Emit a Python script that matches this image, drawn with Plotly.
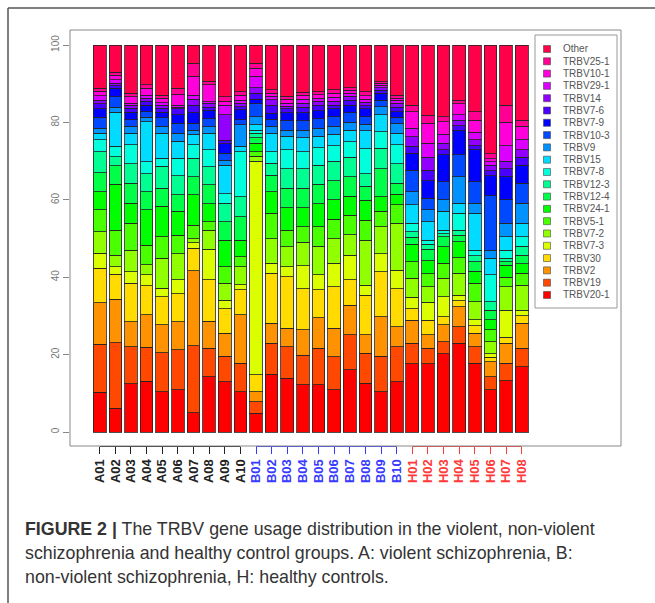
import colorsys
import plotly.graph_objects as go

# ---------------- data ----------------
samples = ["A01", "A02", "A03", "A04", "A05", "A06", "A07", "A08", "A09", "A10",
           "B01", "B02", "B03", "B04", "B05", "B06", "B07", "B08", "B09", "B10",
           "H01", "H02", "H03", "H04", "H05", "H06", "H07", "H08"]

# stacking order, bottom -> top
genes = ["TRBV20-1", "TRBV19", "TRBV2", "TRBV30", "TRBV7-3", "TRBV7-2", "TRBV5-1",
         "TRBV24-1", "TRBV12-4", "TRBV12-3", "TRBV7-8", "TRBV15", "TRBV9", "TRBV10-3",
         "TRBV7-9", "TRBV7-6", "TRBV14", "TRBV29-1", "TRBV10-1", "TRBV25-1", "Other"]

trbv20_1 = [10.3, 6.1, 12.5, 13.1, 10.4, 11.0, 5.0, 14.3, 13.0, 10.4,
            4.8, 15.0, 13.9, 12.2, 12.2, 10.9, 16.1, 12.6, 10.4, 13.0,
            17.7, 17.7, 20.2, 22.9, 17.8, 10.9, 13.3, 16.9]
trbv19 = [12.4, 17.0, 9.6, 8.8, 10.1, 10.3, 17.3, 7.3, 6.6, 7.4,
          3.0, 7.9, 8.2, 7.7, 9.5, 8.6, 9.0, 7.8, 9.2, 9.1,
          5.2, 4.0, 3.2, 4.3, 4.3, 3.4, 4.5, 4.8]
trbv2 = [10.7, 11.2, 6.4, 8.4, 7.2, 7.2, 19.4, 7.1, 5.9, 12.5,
         2.6, 5.2, 4.7, 6.5, 7.8, 7.3, 7.7, 4.7, 10.2, 5.1,
         6.0, 3.4, 4.3, 5.2, 3.4, 3.9, 5.2, 6.4]
trbv30 = [8.9, 6.5, 9.9, 7.5, 7.3, 7.3, 5.8, 10.6, 6.4, 6.5,
          4.4, 12.9, 13.3, 10.6, 7.3, 10.8, 6.5, 10.3, 11.6, 9.9,
          3.0, 3.8, 2.1, 1.6, 2.0, 1.1, 1.5, 1.9]
trbv7_3 = [3.9, 1.9, 3.0, 2.8, 2.2, 3.5, 1.4, 7.9, 2.2, 1.3,
           55.2, 2.6, 2.6, 6.0, 3.9, 6.0, 6.4, 2.6, 4.7, 4.7,
           3.0, 4.7, 5.2, 1.4, 1.5, 1.0, 7.0, 1.5]
trbv7_2 = [5.6, 3.0, 5.6, 2.6, 7.7, 6.8, 1.1, 5.0, 4.3, 4.6,
           1.3, 6.4, 5.2, 6.0, 7.3, 6.4, 5.3, 11.6, 7.0, 12.2,
           4.8, 3.9, 4.7, 5.6, 4.7, 3.0, 6.0, 6.5]
trbv5_1 = [5.6, 6.5, 6.9, 5.1, 5.6, 4.8, 3.5, 2.2, 4.3, 2.6,
           1.2, 6.5, 4.3, 4.0, 5.0, 5.0, 5.0, 5.2, 3.9, 4.7,
           4.3, 3.4, 3.9, 4.0, 4.7, 3.1, 2.5, 3.0]
trbv24_1 = [4.7, 11.8, 5.2, 9.1, 7.8, 6.1, 7.8, 4.6, 6.9, 4.3,
            2.2, 5.6, 5.8, 5.0, 6.0, 5.0, 5.0, 5.1, 3.8, 2.8,
            4.5, 3.4, 4.3, 4.2, 3.1, 2.6, 3.1, 2.5]
trbv12_4 = [4.9, 4.8, 5.2, 4.7, 4.7, 4.3, 4.7, 4.9, 4.8, 6.1,
            1.3, 4.3, 5.0, 5.0, 5.0, 5.0, 5.0, 3.6, 7.3, 2.8,
            1.8, 3.0, 2.6, 1.6, 2.5, 2.5, 0.9, 2.2]
trbv12_3 = [5.4, 2.4, 5.1, 4.7, 5.7, 4.9, 4.8, 4.6, 4.7, 5.1,
            1.2, 3.1, 5.0, 5.0, 5.0, 5.0, 5.0, 3.3, 5.2, 5.1,
            1.5, 1.2, 0.8, 1.4, 1.5, 2.2, 0.9, 2.3]
trbv7_8 = [3.1, 2.6, 4.8, 3.0, 2.1, 4.6, 3.4, 4.5, 2.5, 11.6,
           0.8, 3.0, 5.0, 4.5, 4.5, 4.0, 4.0, 6.4, 4.3, 4.8,
           2.2, 1.1, 0.9, 4.3, 1.5, 6.9, 2.1, 2.5]
trbv15 = [1.7, 8.8, 3.0, 10.4, 6.4, 4.3, 2.8, 4.2, 7.4, 1.4,
          1.4, 4.7, 3.5, 3.5, 3.0, 3.0, 3.0, 4.7, 4.4, 3.0,
          4.7, 4.8, 4.8, 2.6, 9.5, 4.3, 3.5, 3.5]
trbv9 = [1.3, 1.4, 1.8, 1.1, 1.8, 2.1, 1.0, 1.7, 1.3, 5.6,
         2.1, 1.8, 1.5, 2.0, 2.0, 2.0, 2.0, 1.7, 2.1, 2.6,
         3.4, 3.0, 3.0, 6.9, 2.6, 2.1, 3.5, 5.1]
trbv10_3 = [2.8, 2.7, 1.7, 1.5, 2.2, 2.6, 1.8, 2.1, 1.7, 1.3,
            3.4, 1.8, 2.5, 2.5, 2.5, 2.5, 2.5, 1.9, 1.7, 1.5,
            5.6, 3.0, 4.7, 5.6, 5.6, 14.1, 6.0, 5.2]
trbv7_9 = [2.3, 2.2, 1.9, 1.7, 1.4, 2.2, 2.7, 2.2, 2.5, 2.6,
           1.1, 1.6, 2.0, 2.0, 2.0, 2.0, 2.0, 2.0, 1.7, 1.5,
           4.3, 4.6, 6.9, 6.4, 8.2, 5.2, 6.0, 4.7]
trbv7_6 = [1.3, 0.6, 1.1, 1.0, 1.1, 1.5, 2.0, 0.8, 0.9, 0.8,
           1.5, 2.1, 1.0, 1.5, 1.5, 1.0, 1.3, 0.8, 0.8, 1.2,
           1.8, 2.7, 1.4, 1.2, 1.1, 1.2, 2.0, 2.0]
trbv14 = [0.9, 0.7, 0.7, 0.7, 0.7, 0.5, 1.5, 1.0, 6.6, 0.9,
          1.5, 1.4, 0.7, 1.0, 1.0, 1.0, 1.0, 0.9, 0.7, 1.0,
          2.5, 3.3, 1.6, 1.4, 1.5, 1.4, 2.0, 1.9]
trbv29_1 = [1.1, 0.8, 0.6, 0.8, 0.7, 0.5, 1.1, 0.4, 2.5, 0.8,
            2.9, 0.9, 0.8, 1.0, 0.8, 1.0, 0.7, 0.8, 0.6, 0.7,
            2.2, 3.6, 2.4, 1.4, 2.0, 0.9, 4.0, 2.6]
trbv10_1 = [1.2, 1.2, 1.7, 1.8, 1.1, 2.8, 4.8, 4.3, 1.0, 1.3,
            2.1, 0.8, 1.0, 1.0, 0.9, 1.0, 0.8, 0.9, 0.5, 0.5,
            4.3, 5.2, 3.2, 2.9, 3.1, 0.8, 6.0, 3.5]
trbv25_1 = [0.7, 0.8, 0.8, 0.9, 0.9, 1.5, 3.4, 0.9, 1.2, 0.9,
            1.3, 0.8, 0.8, 0.8, 0.8, 1.0, 0.7, 1.0, 0.4, 0.9,
            1.7, 2.1, 1.3, 0.9, 2.2, 1.3, 4.5, 1.6]
other = [11.2, 7.0, 12.5, 10.3, 12.9, 11.2, 4.7, 9.4, 13.3, 12.0,
         4.7, 11.6, 13.2, 12.2, 12.0, 11.5, 11.0, 12.1, 9.5, 12.9,
         15.5, 18.1, 18.5, 14.2, 17.2, 28.1, 15.5, 19.4]

series = [trbv20_1, trbv19, trbv2, trbv30, trbv7_3, trbv7_2, trbv5_1, trbv24_1,
          trbv12_4, trbv12_3, trbv7_8, trbv15, trbv9, trbv10_3, trbv7_9, trbv7_6,
          trbv14, trbv29_1, trbv10_1, trbv25_1, other]

y_ticks = [0, 20, 40, 60, 80, 100]

caption_lines = [
    "<b>FIGURE 2 |</b> The TRBV gene usage distribution in the violent, non-violent",
    "schizophrenia and healthy control groups. A: violent schizophrenia, B:",
    "non-violent schizophrenia, H: healthy controls.",
]

# ---------------- styling ----------------
W, H = 655, 603
FONT = "Liberation Sans"


def px(x):
    return x / W


def py(y):
    return 1 - y / H


n = len(genes)
colors = []
for i in range(n):
    r, g, b = colorsys.hsv_to_rgb(i / n, 1.0, 1.0)
    colors.append("rgb(%d,%d,%d)" % (round(r * 255), round(g * 255), round(b * 255)))

idx = list(range(len(samples)))
groups = [("A", "#222222"), ("B", "#3a3aff"), ("H", "#ff3a3a")]

x_dom = [px(70), px(621)]
x_rng = [-1.9, 33.35]

fig = go.Figure()
for gene, vals, col in zip(genes, series, colors):
    fig.add_trace(go.Bar(
        x=idx, y=vals, name=gene, showlegend=False,
        marker=dict(color=col, line=dict(color="rgba(35,35,35,0.8)", width=1)),
        xaxis="x", yaxis="y", hovertemplate=gene + " %{y}<extra></extra>"))

layout_axes = {}
shapes = []
for k, (g, c) in enumerate(groups):
    members = [i for i, s in enumerate(samples) if s[0] == g]
    name = "xaxis" if k == 0 else "xaxis%d" % (k + 1)
    ax = dict(domain=x_dom, range=x_rng, tickmode="array", tickvals=members,
              ticktext=[samples[i] for i in members], tickangle=-90,
              ticks="outside", ticklen=7, tickcolor=c, tickwidth=1,
              tickfont=dict(family=FONT, size=13, color=c, weight="bold"),
              showgrid=False, zeroline=False, showline=False, anchor="y",
              fixedrange=True)
    if k > 0:
        ax["overlaying"] = "x"
        fig.add_trace(go.Scatter(x=members, y=[None] * len(members), mode="markers",
                                 xaxis="x%d" % (k + 1), yaxis="y", showlegend=False,
                                 hoverinfo="skip"))
    layout_axes[name] = ax
    shapes.append(dict(type="line", xref="x", yref="paper",
                       x0=members[0], x1=members[-1], y0=py(446.5), y1=py(446.5),
                       line=dict(color=c, width=1)))

# custom legend (top -> bottom: Other ... TRBV20-1)
leg_names = genes[::-1]
leg_colors = colors[::-1]
rows = list(range(len(leg_names)))
fig.add_trace(go.Scatter(
    x=[12] * len(rows), y=rows, mode="markers", xaxis="x4", yaxis="y2",
    marker=dict(symbol="square", size=7, color=leg_colors,
                line=dict(color="#444", width=0.6)),
    showlegend=False, hoverinfo="skip"))

annotations = []
for i, name in zip(rows, leg_names):
    annotations.append(dict(x=26, y=i, xref="x4", yref="y2", text=name,
                            xanchor="left", yanchor="middle", showarrow=False,
                            font=dict(family=FONT, size=10, color="#555")))

for j, (line, yy) in enumerate(zip(caption_lines, [529, 553, 577])):
    annotations.append(dict(x=px(23), y=py(yy), xref="paper", yref="paper", text=line,
                            xanchor="left", yanchor="middle", showarrow=False,
                            font=dict(family=FONT, size=17.8, color="#333")))

# plot frame, legend box, outer figure border
shapes += [
    dict(type="rect", xref="paper", yref="paper", x0=px(70), x1=px(621),
         y0=py(446), y1=py(30), line=dict(color="#888", width=1)),
    dict(type="rect", xref="paper", yref="paper", x0=px(535), x1=px(617),
         y0=py(308), y1=py(35), line=dict(color="#999", width=1)),
    dict(type="line", xref="paper", yref="paper", x0=px(8), x1=1, y0=py(8), y1=py(8),
         line=dict(color="#555", width=1.5)),
    dict(type="line", xref="paper", yref="paper", x0=px(8), x1=px(8), y0=py(8), y1=0,
         line=dict(color="#555", width=1.5)),
]

fig.update_layout(
    width=W, height=H, margin=dict(l=0, r=0, t=0, b=0),
    paper_bgcolor="white", plot_bgcolor="white",
    barmode="stack", bargap=0.19,
    font=dict(family=FONT),
    yaxis=dict(domain=[py(446), py(30)], range=[-3.6, 103.9], tickvals=y_ticks,
               tickangle=-90, ticks="outside", ticklen=6, tickcolor="#888",
               tickfont=dict(family=FONT, size=10, color="#777"),
               showgrid=False, zeroline=False, showline=False, anchor="x",
               fixedrange=True),
    xaxis4=dict(domain=[px(535), px(617)], range=[0, 82], visible=False,
                anchor="y2", fixedrange=True),
    yaxis2=dict(domain=[py(308), py(35)], range=[21.06, -1.138], visible=False,
                anchor="x4", fixedrange=True),
    shapes=shapes, annotations=annotations,
    **layout_axes,
)

fig.write_html("out.html",
               config={"displayModeBar": False},
               post_script="document.body.style.margin='0';"
                           "document.body.style.overflow='hidden';")
